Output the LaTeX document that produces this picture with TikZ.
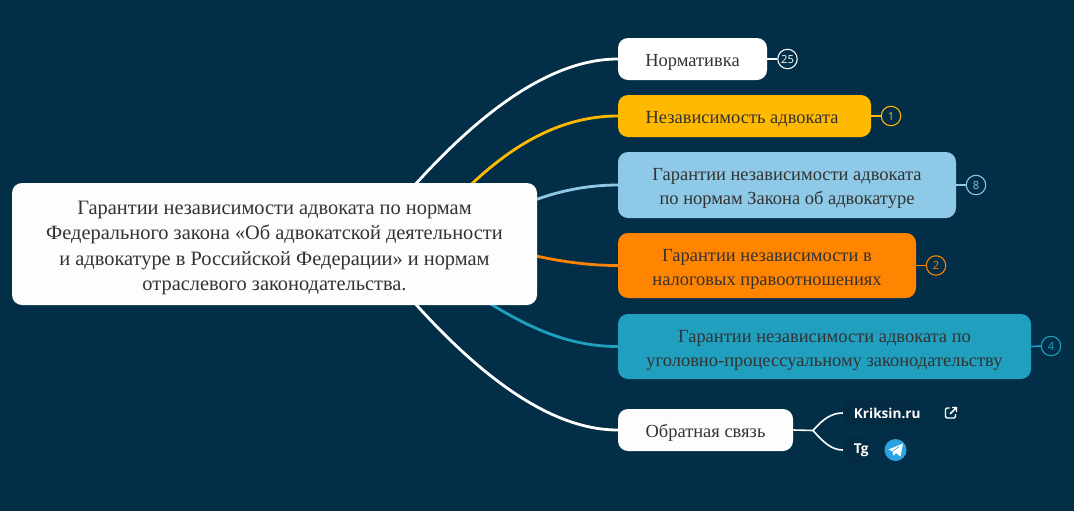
\documentclass[tikz,border=0pt]{standalone}
\usepackage{fontspec}
\setmainfont{Liberation Serif}
\newfontfamily\uifont{Open Sans}
\definecolor{bgc}{HTML}{022F47}
\definecolor{inkc}{HTML}{333333}
\definecolor{whc}{HTML}{FDFDFD}
\definecolor{yelc}{HTML}{FFB900}
\definecolor{bluc}{HTML}{8EC9E7}
\definecolor{orac}{HTML}{FF8400}
\definecolor{teac}{HTML}{209FBF}
\definecolor{tgc}{HTML}{2AA3E0}
\definecolor{labc}{HTML}{032B41}
\pgfdeclarelayer{bglayer}
\pgfdeclarelayer{wires}
\pgfsetlayers{bglayer,wires,main}
\newcommand{\dropline}{\rule{0pt}{14.5pt}}
\newcommand{\dropmore}{\rule{0pt}{16pt}}
\tikzset{
  x=0.75pt,y=-0.75pt,
  topic/.style={rounded corners=7.5pt,inner sep=0pt,text=inkc,align=center,font=\fontsize{15.3}{18.9}\selectfont},
  sub/.style={topic,font=\fontsize{13.85}{18.0}\selectfont},
  link/.style={line width=2.1pt,line cap=round},
  tick/.style={line width=1.2pt},
  count/.style={circle,draw,line width=0.8pt,inner sep=0pt,minimum size=14.6pt,font=\uifont\fontsize{8.4}{9}\selectfont},
  lab/.style={rounded corners=5pt,fill=labc,inner sep=0pt,text=white,font=\uifont\bfseries\fontsize{10.2}{12}\selectfont},
}
\begin{document}
\begin{tikzpicture}
\useasboundingbox (0,0) rectangle (1074,511);
\begin{pgfonlayer}{bglayer}
\fill[bgc] (0,0) rectangle (1074,511);
\end{pgfonlayer}
% nodes
\node[topic,fill=whc,minimum width=393.75pt,minimum height=91.5pt] (root) at (274.5,244) {\dropmore Гарантии независимости адвоката по нормам\\Федерального закона «Об адвокатской деятельности\\и адвокатуре в Российской Федерации» и нормам\\отраслевого законодательства.};
\coordinate (h1) at (370,238);
\coordinate (h2) at (430,228);
\coordinate (h3) at (490,222);
\coordinate (h4) at (490,245);
\coordinate (h5) at (445,275);
\coordinate (h6) at (370,250);
\node[sub,fill=white,minimum width=111.75pt,minimum height=31.5pt] (n1) at (692.5,59) {\dropline Нормативка};
\node[sub,fill=yelc,minimum width=189.75pt,minimum height=31.5pt] (n2) at (744.5,116) {\dropline Независимость адвоката\hspace{3.75pt}};
\node[sub,fill=bluc,minimum width=253.5pt,minimum height=49.5pt] (n3) at (787,185) {\dropline Гарантии независимости адвоката\\по нормам Закона об адвокатуре};
\node[sub,fill=orac,minimum width=223.5pt,minimum height=48.75pt] (n4) at (767,265.5) {\dropline Гарантии независимости в\\налоговых правоотношениях};
\node[sub,fill=teac,minimum width=309.75pt,minimum height=48.75pt] (n5) at (824.5,346.5) {\dropline Гарантии независимости адвоката по\\уголовно-процессуальному законодательству};
\node[sub,fill=whc,minimum width=131.25pt,minimum height=31.5pt] (n6) at (705.5,430) {\dropline Обратная связь};
\node[count,text=white,draw=white] (c1) at (787.5,59) {25};
\node[count,text=yelc,draw=yelc] (c2) at (891,116) {1};
\node[count,text=bluc,draw=bluc] (c3) at (976,185) {8};
\node[count,text=orac,draw=orac] (c4) at (936,265.5) {2};
\node[count,text=teac,draw=teac] (c5) at (1051,346) {4};
\coordinate (fork) at (813,430.5);
\node[lab,minimum height=19.5pt,anchor=west] (k) at (843,413) {\hspace{8pt}Kriksin.ru\hspace{8pt}};
\node[lab,minimum height=19pt,anchor=west] (t) at (843,450) {\hspace{8pt}Tg\hspace{7pt}};
% connectors, behind the boxes
\begin{pgfonlayer}{wires}
\draw[link,white] (h1) .. controls (440,150) and (530,59) .. (n1.west);
\draw[link,yelc] (h2) .. controls (480,170) and (540,116) .. (n2.west);
\draw[link,bluc] (h3) .. controls (525,200) and (570,185) .. (n3.west);
\draw[link,orac] (h4) .. controls (530,255) and (570,265.5) .. (n4.west);
\draw[link,teac] (h5) .. controls (500,310) and (550,346.5) .. (n5.west);
\draw[link,white] (h6) .. controls (440,338) and (530,430) .. (n6.west);
\draw[tick,white] (n1.east) -- (c1.west);
\draw[tick,yelc] (n2.east) -- (c2.west);
\draw[tick,bluc] (n3.east) -- (c3.west);
\draw[tick,orac] (n4.east) -- (c4.west);
\draw[tick,teac] (n5.east) -- (c5.west);
\draw[tick,white] (n6.east) -- (fork);
\draw[tick,white] (fork) .. controls (824,418) and (832,413) .. (k.west);
\draw[tick,white] (fork) .. controls (824,443) and (832,450) .. (t.west);
\end{pgfonlayer}
% icons
\node[circle,fill=tgc,minimum size=16.5pt,inner sep=0pt] (tg) at (895.5,450) {};
\fill[white] (888.5,449.5) -- (903,443.5) -- (900.5,456.5) -- (896,453) -- (893.5,455.5) -- (892.5,451.5) -- cycle;
\draw[tgc,line width=0.5pt] (892.5,451.5) -- (899,446.5);
\draw[white,line width=1.1pt,rounded corners=1pt] (949.5,408) -- (945.5,408) -- (945.5,418) -- (955.5,418) -- (955.5,414);
\draw[white,line width=1.1pt] (950,414) -- (956.5,407.5) (952,407.5) -- (956.5,407.5) -- (956.5,412);
\end{tikzpicture}
\end{document}
